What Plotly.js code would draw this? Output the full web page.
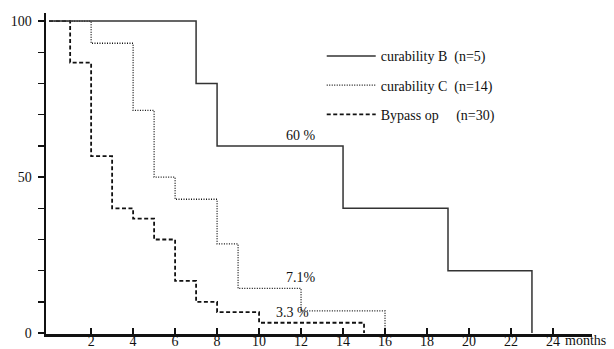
<!DOCTYPE html>
<html>
<head>
<meta charset="utf-8">
<script src="https://cdn.plot.ly/plotly-3.0.1.min.js"></script>
<style>html,body{margin:0;padding:0;background:#fff;}#chart{width:614px;height:349px;}</style>
</head>
<body>
<div id="chart"></div>
<script>
// Survival (%) by months
const monthsB = [0, 7, 8, 14, 19, 23];
const survB   = [100, 80, 60, 40, 20, 0];
const monthsC = [0, 2, 4, 5, 6, 8, 9, 12, 16];
const survC   = [100, 92.9, 71.4, 50, 42.9, 28.6, 14.3, 7.1, 0];
const monthsBp = [0, 1, 2, 3, 4, 5, 6, 7, 8, 10, 15];
const survBp   = [100, 86.7, 56.7, 40, 36.7, 30, 16.7, 10, 6.7, 3.3, 0];
const seriesNames = ['curability B\u00a0\u00a0(n=5)', 'curability C\u00a0\u00a0(n=14)', 'Bypass op\u00a0\u00a0\u00a0\u00a0\u00a0(n=30)'];
const xTicks = [2, 4, 6, 8, 10, 12, 14, 16, 18, 20, 22, 24];
const yTicks = [0, 10, 20, 30, 40, 50, 60, 70, 80, 90, 100];
const yTickText = ['0', '', '', '', '', '50', '', '', '', '', '100'];
const labels = [
  {x: 12, y: 60, text: '60 %'},
  {x: 12, y: 14.3, text: '7.1%'},
  {x: 11.6, y: 3.3, text: '3.3 %'}
];

const font = 'Liberation Serif, Times New Roman, serif';
const traces = [
  {x: monthsC, y: survC, name: seriesNames[1], legendgroup: 'c', legendrank: 2,
   mode: 'lines', line: {shape: 'hv', color: '#111', width: 1.3, dash: '1px,1.5px'}},
  {x: monthsBp, y: survBp, name: seriesNames[2], legendgroup: 'p', legendrank: 3,
   mode: 'lines', line: {shape: 'hv', color: '#111', width: 1.8, dash: '4px,2.5px'}},
  {x: monthsB, y: survB, name: seriesNames[0], legendgroup: 'b', legendrank: 1,
   mode: 'lines', line: {shape: 'hv', color: '#333', width: 1.5}}
];

const annotations = labels.map(l => ({
  x: l.x, y: l.y, xref: 'x', yref: 'y', text: l.text, showarrow: false,
  xanchor: 'center', yanchor: 'bottom', yshift: 1,
  font: {family: font, size: 14, color: '#111'}
}));
annotations.push({
  x: 24, y: 0, xref: 'x', yref: 'paper', text: 'months', showarrow: false,
  xanchor: 'left', yanchor: 'bottom', xshift: 11, yshift: -15, borderpad: 0,
  font: {family: font, size: 14, color: '#111'}
});

const layout = {
  width: 614, height: 349,
  margin: {l: 46, r: 22, t: 13, b: 15},
  paper_bgcolor: '#fff', plot_bgcolor: '#fff',
  showlegend: true,
  legend: {x: 0.505, y: 0.915, xanchor: 'left', yanchor: 'top',
    font: {family: font, size: 14, color: '#111'}, bgcolor: 'rgba(0,0,0,0)',
    tracegroupgap: 8, itemwidth: 49},
  xaxis: {range: [-0.15, 25.86], showgrid: false, zeroline: false,
    showline: true, linecolor: '#111', linewidth: 2.5,
    tickmode: 'array', tickvals: xTicks, ticks: 'inside', ticklen: 6, tickwidth: 1.3, tickcolor: '#111',
    ticklabelstandoff: -7,
    tickfont: {family: font, size: 14, color: '#111'}},
  yaxis: {range: [-0.3, 102.6], showgrid: false, zeroline: false,
    showline: true, linecolor: '#111', linewidth: 2.5,
    tickmode: 'array', tickvals: yTicks, ticktext: yTickText, ticks: 'outside', ticklen: 6, tickwidth: 1.3, tickcolor: '#111',
    ticklabelstandoff: 3,
    tickfont: {family: font, size: 14, color: '#111'}},
  annotations: annotations
};

Plotly.newPlot('chart', traces, layout, {displayModeBar: false, staticPlot: true});
</script>
</body>
</html>
